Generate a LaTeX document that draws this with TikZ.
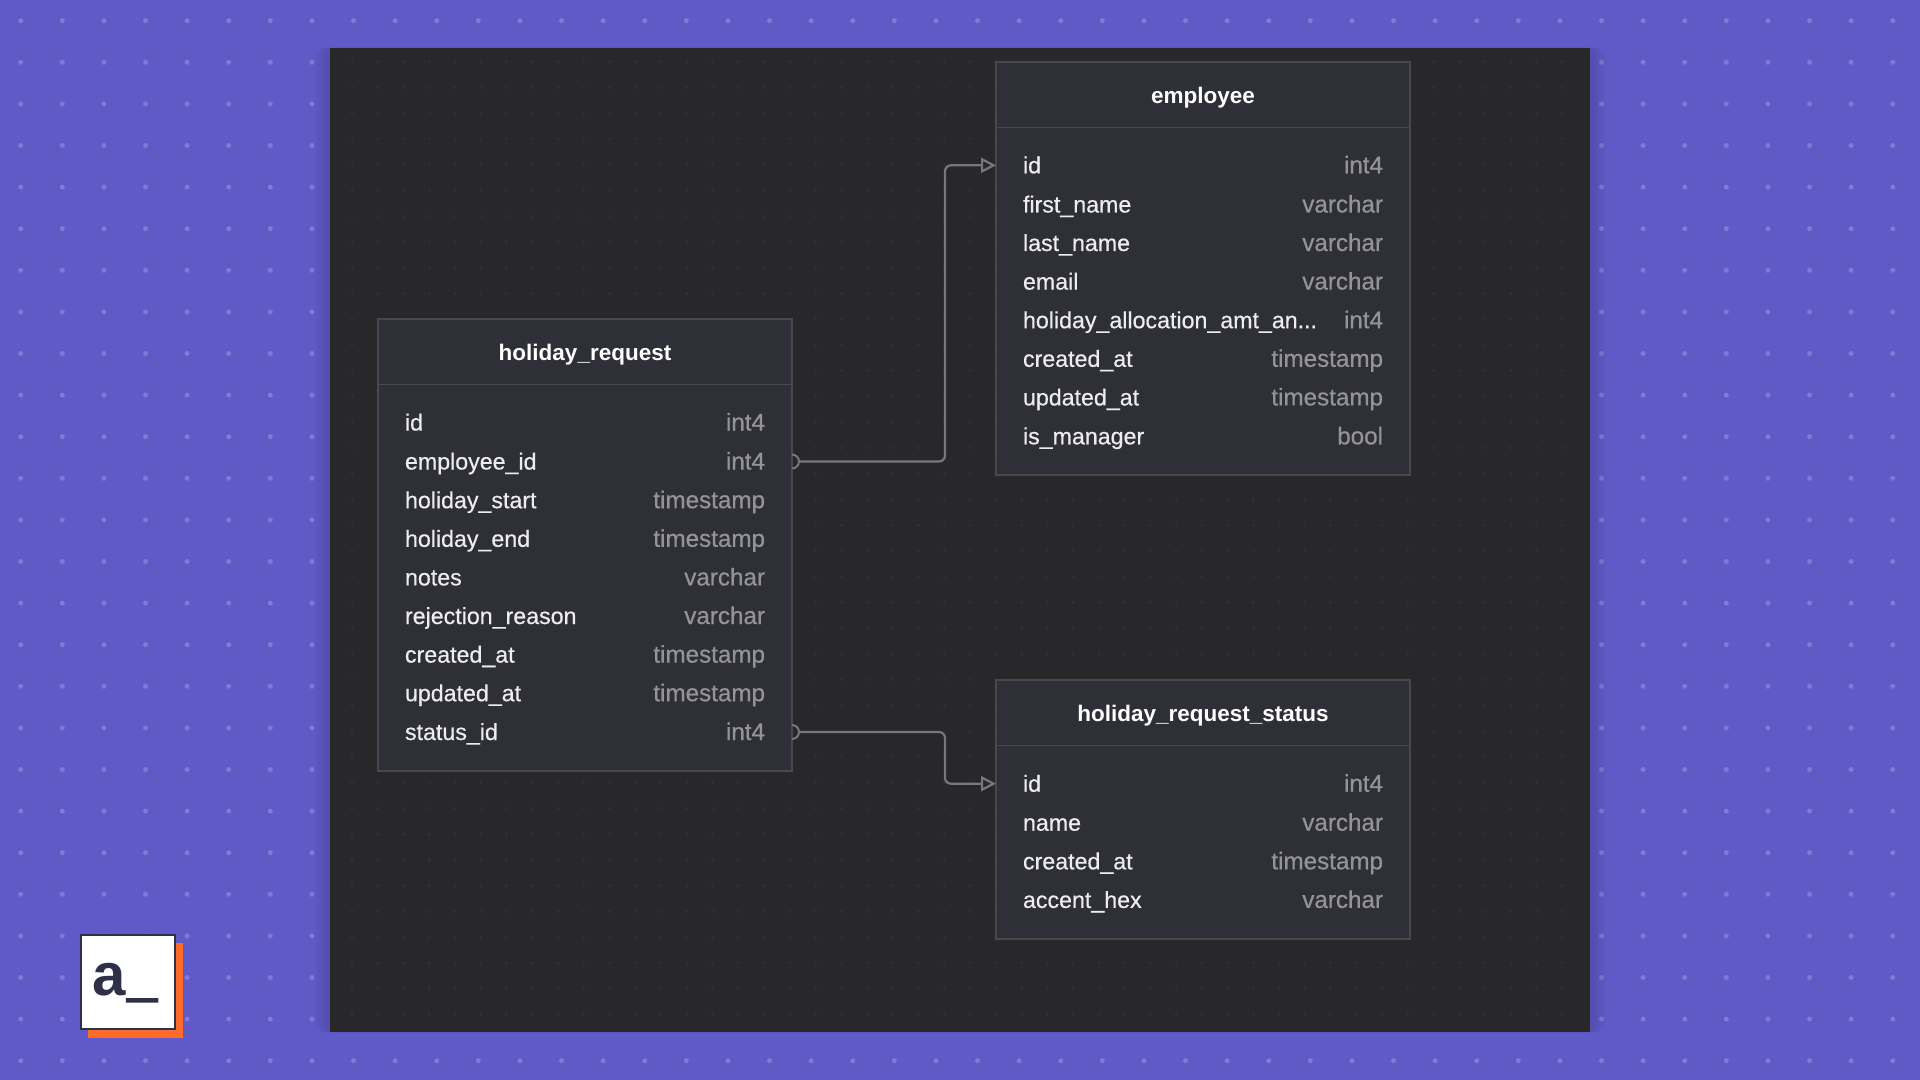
\documentclass[tikz,border=0pt]{standalone}
\usepackage{fontspec}
\usepackage{tikz}
\usetikzlibrary{arrows.meta, positioning}
\setmainfont{Liberation Sans}
\newfontfamily\rowfont[FakeBold=0.5]{Liberation Sans}
\newfontfamily\logobar[FakeBold=5]{Liberation Sans}
\definecolor{pagecol}{HTML}{605AC7}
\definecolor{pagedot}{HTML}{7F7AD2}
\definecolor{panelcol}{HTML}{28282A}
\definecolor{paneldot}{HTML}{303032}
\definecolor{tablecol}{HTML}{2F3037}
\definecolor{edgecol}{HTML}{48484D}
\definecolor{linecol}{HTML}{77777C}
\definecolor{namecol}{HTML}{EDEDEF}
\definecolor{typecol}{HTML}{949498}
\definecolor{logoink}{HTML}{2D3047}
\definecolor{logoshade}{HTML}{FF6B2B}
\newcommand{\fieldrow}[2]{#1\hfill{\fontsize{12.1}{13}\selectfont\textcolor{typecol}{#2}}}

\begin{document}
\begin{tikzpicture}[
  x=0.5pt, y=-0.5pt,
  tablebox/.style={rectangle, draw=edgecol, fill=tablecol, line width=1pt, minimum width=207pt, inner sep=0pt},
  tabletitle/.style={rectangle, minimum width=207pt, minimum height=33pt, text height=12pt, text depth=2.5pt, inner sep=0pt, font=\fontsize{11.25}{13}\selectfont\bfseries, text=white},
  fieldline/.style={rectangle, text width=180pt, text height=11pt, text depth=3pt, inner sep=0pt, outer sep=0pt, inner xsep=13.5pt, font=\fontsize{11.6}{13}\rowfont, text=namecol},
  rel/.style={draw=linecol, line width=1.1pt, rounded corners=3pt, shorten <=3.5pt},
  fkend/.style={draw=linecol, line width=1pt},
  >={Triangle[open, length=7.5pt, width=7.5pt]}
]
  % page and panel
  \fill[pagecol] (0,0) rectangle (1920,1080);
  \foreach \i in {0,...,45} {
    \foreach \j in {0,...,25} {
      \fill[pagedot] (20.7+41.6*\i,20.7+41.6*\j) circle (1.25pt);
    }
  }
  \foreach \s in {3,6,9,12,15} {
    \fill[black, opacity=0.025, rounded corners=4pt] (330-\s,48) rectangle (1590+\s,1032);
  }
  \fill[panelcol] (330,48) rectangle (1590,1032);
  \foreach \i in {0,...,47} {
    \foreach \j in {0,...,37} {
      \fill[paneldot] (352+25.75*\i,61.7+25.75*\j) circle (0.9pt);
    }
  }

  % tables
  \node[tablebox, minimum height=226pt] (hr) at (585,545) {};
  \node[tablebox, minimum height=206.5pt] (emp) at (1203,268.5) {};
  \node[tablebox, minimum height=129.5pt] (st) at (1203,809.5) {};

  \node[tabletitle, below=0pt of hr.north] (hrTitle) {holiday\_request};
  \node[tabletitle, below=0pt of emp.north] (empTitle) {employee};
  \node[tabletitle, below=0pt of st.north] (stTitle) {holiday\_request\_status};
  \draw[edgecol] (hrTitle.south west) -- (hrTitle.south east);
  \draw[edgecol] (empTitle.south west) -- (empTitle.south east);
  \draw[edgecol] (stTitle.south west) -- (stTitle.south east);

  \node[fieldline] (hrId) at (585,422.5) {\fieldrow{id}{int4}};
  \node[fieldline] (hrEmployeeId) at (585,461.5) {\fieldrow{employee\_id}{int4}};
  \node[fieldline] (hrStart) at (585,500.2) {\fieldrow{holiday\_start}{timestamp}};
  \node[fieldline] (hrEnd) at (585,538.8) {\fieldrow{holiday\_end}{timestamp}};
  \node[fieldline] (hrNotes) at (585,577.4) {\fieldrow{notes}{varchar}};
  \node[fieldline] (hrReason) at (585,616) {\fieldrow{rejection\_reason}{varchar}};
  \node[fieldline] (hrCreated) at (585,654.6) {\fieldrow{created\_at}{timestamp}};
  \node[fieldline] (hrUpdated) at (585,693.2) {\fieldrow{updated\_at}{timestamp}};
  \node[fieldline] (hrStatusId) at (585,732) {\fieldrow{status\_id}{int4}};

  \node[fieldline] (empId) at (1203,165.3) {\fieldrow{id}{int4}};
  \node[fieldline] (empFirst) at (1203,204.5) {\fieldrow{first\_name}{varchar}};
  \node[fieldline] (empLast) at (1203,243) {\fieldrow{last\_name}{varchar}};
  \node[fieldline] (empEmail) at (1203,281.6) {\fieldrow{email}{varchar}};
  \node[fieldline] (empAlloc) at (1203,320.2) {\fieldrow{holiday\_allocation\_amt\_an...}{int4}};
  \node[fieldline] (empCreated) at (1203,358.8) {\fieldrow{created\_at}{timestamp}};
  \node[fieldline] (empUpdated) at (1203,397.4) {\fieldrow{updated\_at}{timestamp}};
  \node[fieldline] (empManager) at (1203,436.3) {\fieldrow{is\_manager}{bool}};

  \node[fieldline] (stId) at (1203,783.7) {\fieldrow{id}{int4}};
  \node[fieldline] (stName) at (1203,822.7) {\fieldrow{name}{varchar}};
  \node[fieldline] (stCreated) at (1203,861.3) {\fieldrow{created\_at}{timestamp}};
  \node[fieldline] (stAccent) at (1203,899.9) {\fieldrow{accent\_hex}{varchar}};

  % connectors
  \coordinate (empBend) at (945,300);
  \coordinate (stBend) at (945,750);
  \draw[rel, ->] (hrEmployeeId.east) -| (empBend |- empId.west) -- (empId.west);
  \draw[rel, ->] (hrStatusId.east) -| (stBend |- stId.west) -- (stId.west);
  \draw[fkend] ([yshift=3.5pt]hrEmployeeId.east) arc[start angle=90, end angle=-90, radius=3.5pt];
  \draw[fkend] ([yshift=3.5pt]hrStatusId.east) arc[start angle=90, end angle=-90, radius=3.5pt];

  % logo
  \fill[logoshade] (88,943) rectangle (183,1038);
  \node[rectangle, draw=logoink, fill=white, line width=1pt, minimum size=47pt, inner sep=0pt] (logo) at (127.5,982.3) {};
  \node[font=\fontsize{30}{30}\selectfont\bfseries, text=logoink, anchor=base west, inner sep=0pt] (logoText) at (92,995) {a\kern1pt{\fontsize{26}{26}\logobar\_}};
\end{tikzpicture}
\end{document}
